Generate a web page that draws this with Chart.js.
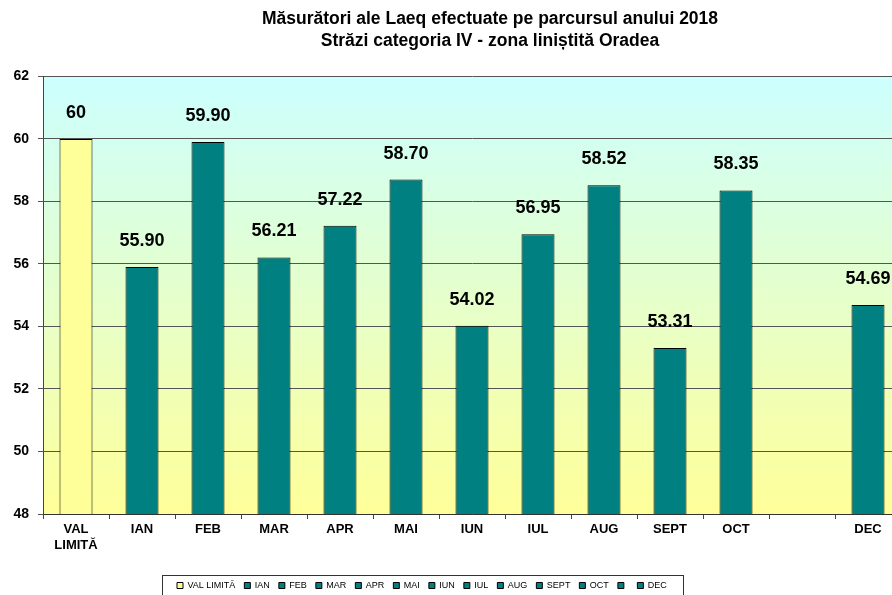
<!DOCTYPE html>
<html>
<head>
<meta charset="utf-8">
<script src="https://cdn.jsdelivr.net/npm/chart.js@4"></script>
<style>
  html, body { margin: 0; padding: 0; background: #fff; overflow: hidden; }
  canvas { display: block; }
</style>
</head>
<body>
<canvas id="chart" width="980" height="600"></canvas>
<script>
const categories = ['VAL LIMITĂ', 'IAN', 'FEB', 'MAR', 'APR', 'MAI', 'IUN', 'IUL', 'AUG', 'SEPT', 'OCT', '', 'DEC'];
const values = [60, 55.90, 59.90, 56.21, 57.22, 58.70, 54.02, 56.95, 58.52, 53.31, 58.35, null, 54.69];
const valueLabels = ['60', '55.90', '59.90', '56.21', '57.22', '58.70', '54.02', '56.95', '58.52', '53.31', '58.35', '', '54.69'];
const yMin = 48;
const yMax = 62;
const yStep = 2;
const titleLines = ['Măsurători ale Laeq efectuate pe parcursul anului 2018', 'Străzi categoria IV - zona liniștită Oradea'];

const barColors = categories.map((c, i) => i === 0 ? '#FFFF99' : '#008080');

Chart.defaults.font.family = '"Liberation Sans", Arial, sans-serif';
Chart.defaults.color = '#000';

// gradient behind the plot
const plotBackground = {
  id: 'plotBackground',
  beforeDraw(chart) {
    const { ctx, chartArea: a } = chart;
    const g = ctx.createLinearGradient(0, a.top, 0, a.bottom);
    g.addColorStop(0, '#CCFFFF');
    g.addColorStop(1, '#FFFF99');
    ctx.save();
    ctx.fillStyle = g;
    ctx.fillRect(a.left, a.top, a.right - a.left, a.bottom - a.top);
    ctx.restore();
  }
};

// numbers above the bars
const barValues = {
  id: 'barValues',
  afterDatasetsDraw(chart) {
    const { ctx } = chart;
    const meta = chart.getDatasetMeta(0);
    ctx.save();
    ctx.font = 'bold 18px "Liberation Sans", Arial, sans-serif';
    ctx.fillStyle = '#000';
    ctx.textAlign = 'center';
    ctx.textBaseline = 'middle';
    meta.data.forEach((bar, i) => {
      if (values[i] == null) return;
      ctx.fillText(valueLabels[i], bar.x, bar.y - 26);
    });
    ctx.restore();
  }
};

// move the legend so it starts where the original one does
const legendShift = {
  id: 'legendShift',
  afterLayout(chart) {
    const lg = chart.legend;
    const pad = lg.options.labels.padding;
    const start = (lg.left + pad + lg.right - lg.lineWidths[0]) / 2;
    const dx = 177 - start;
    lg.left += dx;
    lg.right += dx;
  }
};

// frame around the legend
const legendFrame = {
  id: 'legendFrame',
  afterDraw(chart) {
    const hb = chart.legend.legendHitBoxes;
    if (!hb || !hb.length) return;
    const last = hb[hb.length - 1];
    const x0 = Math.round(hb[0].left - 15) + 0.5;
    const x1 = Math.round(last.left + last.width + 16) + 0.5;
    const y0 = Math.round(hb[0].top - 6) + 0.5;
    const { ctx } = chart;
    ctx.save();
    ctx.strokeStyle = '#333';
    ctx.lineWidth = 1;
    ctx.strokeRect(x0, y0, x1 - x0, chart.height + 10 - y0);
    ctx.restore();
  }
};

new Chart(document.getElementById('chart'), {
  type: 'bar',
  data: {
    labels: categories,
    datasets: [{
      data: values,
      backgroundColor: barColors,
      borderColor: '#000',
      borderWidth: 1,
      borderSkipped: false,
      barPercentage: 0.5,
      categoryPercentage: 1
    }]
  },
  options: {
    responsive: false,
    animation: false,
    layout: { padding: 0 },
    plugins: {
      title: {
        display: true,
        text: titleLines,
        font: { size: 17.5, weight: 'bold', lineHeight: 1.27 },
        color: '#000',
        padding: { top: 8, bottom: 24 }
      },
      legend: {
        position: 'bottom',
        fullSize: false,
        onClick: null,
        labels: {
          boxWidth: 6,
          boxHeight: 6,
          padding: 9,
          font: { size: 9 },
          color: '#000',
          generateLabels() {
            return categories.map((c, i) => ({
              text: c,
              fillStyle: barColors[i],
              strokeStyle: '#000',
              lineWidth: 1,
              hidden: false,
              index: i,
              datasetIndex: 0
            }));
          }
        }
      },
      tooltip: { enabled: false }
    },
    scales: {
      x: {
        grid: { drawOnChartArea: false, drawTicks: true, tickLength: 5, offset: true, color: '#444' },
        border: { display: true, color: '#333' },
        ticks: {
          font: { size: 13, weight: 'bold' },
          color: '#000',
          padding: 3,
          maxRotation: 0,
          autoSkip: false,
          callback(v, i) { return categories[i].split(' '); }
        },
        afterFit(s) { s.height = 58; }
      },
      y: {
        min: yMin,
        max: yMax,
        grid: { color: '#555', tickLength: 5, drawTicks: true },
        border: { display: true, color: '#444' },
        ticks: {
          stepSize: yStep,
          font: { size: 14, weight: 'bold' },
          color: '#000',
          padding: 9
        },
        afterFit(s) { s.width = 43; }
      },
      y2: {
        position: 'right',
        grid: { display: false },
        border: { display: false },
        ticks: { display: false },
        afterFit(s) { s.width = 79; }
      }
    }
  },
  plugins: [plotBackground, barValues, legendShift, legendFrame]
});
</script>
</body>
</html>
